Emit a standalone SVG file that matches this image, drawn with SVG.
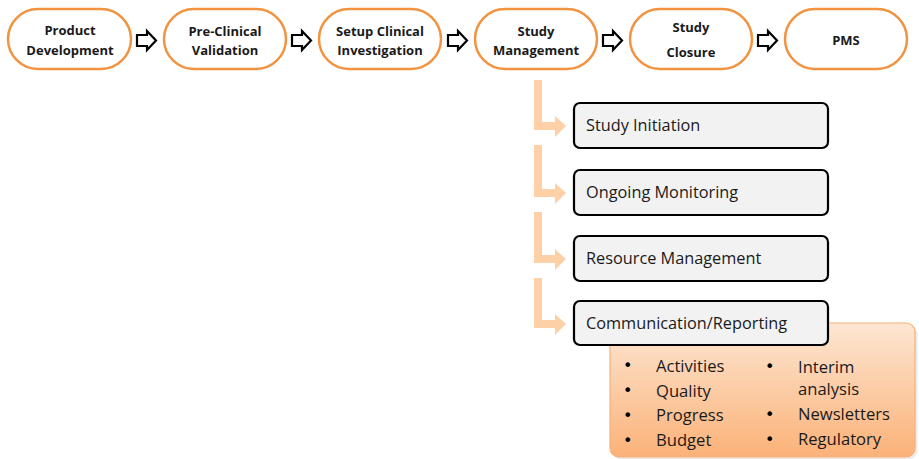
<svg xmlns="http://www.w3.org/2000/svg" width="919" height="459" viewBox="0 0 919 459">
<style>
.pill{fill:#fff;stroke:#f29340;stroke-width:2.5}
.pt{font-family:"Open Sans",sans-serif;font-weight:bold;font-size:13px;fill:#1a1a1a;text-anchor:middle}
.blk{fill:#fff;stroke:#000;stroke-width:2.2;stroke-linejoin:miter}
.sub{fill:#f2f2f2;stroke:#000;stroke-width:2.2}
.st{font-family:"Open Sans",sans-serif;font-size:16.3px;fill:#1a1a1a}
.elb{fill:none;stroke:#fdd0a8;stroke-width:8}
.ah{fill:#fdd0a8}
.bt{font-family:"Open Sans",sans-serif;font-size:16.6px;fill:#1a1a1a}
.bu{font-family:"DejaVu Sans",sans-serif;font-size:16px;fill:#000}
</style>
<defs>
<linearGradient id="og" x1="0" y1="0" x2="0" y2="1">
<stop offset="0" stop-color="#fde6d3"/>
<stop offset="1" stop-color="#fbb278"/>
</linearGradient>
<path id="bar" d="M0,4 H10 V0 L19,9.5 L10,19 V15 H0 Z"/>
</defs>

<g id="detail">
<rect x="611" y="323" width="305" height="135" rx="9" fill="#000" opacity="0.08" transform="translate(1.5,1.5)"/>
<rect x="610" y="323" width="305" height="134" rx="9" fill="url(#og)" stroke="#f5b07a" stroke-width="1.2"/>
<g class="bu">
<text x="623" y="371">•</text>
<text x="623" y="396">•</text>
<text x="623" y="421">•</text>
<text x="623" y="446">•</text>
<text x="765" y="372">•</text>
<text x="765" y="420">•</text>
<text x="765" y="445">•</text>
</g>
<g class="bt">
<text x="656" y="372">Activities</text>
<text x="656" y="397">Quality</text>
<text x="656" y="421">Progress</text>
<text x="656" y="446">Budget</text>
<text x="798" y="373">Interim</text>
<text x="798" y="395">analysis</text>
<text x="798" y="420">Newsletters</text>
<text x="798" y="445">Regulatory</text>
</g>
</g>

<g id="connectors">
<use href="#bar" class="blk" x="137" y="31"/>
<use href="#bar" class="blk" x="292" y="31"/>
<use href="#bar" class="blk" x="448" y="31"/>
<use href="#bar" class="blk" x="603" y="31"/>
<use href="#bar" class="blk" x="758" y="31"/>
<path class="elb" d="M538,80 V126 H557"/>
<path class="ah" d="M555,116 L566,126 L555,137 Z"/>
<path class="elb" d="M538,145 V193 H557"/>
<path class="ah" d="M555,183 L566,193 L555,204 Z"/>
<path class="elb" d="M538,212 V259 H557"/>
<path class="ah" d="M555,249 L566,259 L555,270 Z"/>
<path class="elb" d="M538,278 V324 H557"/>
<path class="ah" d="M555,314 L566,324 L555,335 Z"/>
</g>

<g id="n1"><rect class="pill" x="8" y="9" width="123" height="60" rx="30"/>
<text class="pt" x="70" y="35">Product</text><text class="pt" x="70" y="55">Development</text></g>
<g id="n2"><rect class="pill" x="164" y="9" width="122" height="60" rx="30"/>
<text class="pt" x="225" y="36">Pre-Clinical</text><text class="pt" x="225" y="55">Validation</text></g>
<g id="n3"><rect class="pill" x="319" y="9" width="122" height="60" rx="30"/>
<text class="pt" x="380" y="36">Setup Clinical</text><text class="pt" x="380" y="55">Investigation</text></g>
<g id="n4"><rect class="pill" x="475" y="9" width="122" height="60" rx="30"/>
<text class="pt" x="536" y="36">Study</text><text class="pt" x="536" y="55">Management</text></g>
<g id="n5"><rect class="pill" x="630" y="9" width="122" height="60" rx="30"/>
<text class="pt" x="691" y="32">Study</text><text class="pt" x="691" y="57">Closure</text></g>
<g id="n6"><rect class="pill" x="785" y="9" width="122" height="60" rx="30"/>
<text class="pt" x="846" y="45">PMS</text></g>

<g id="s1"><rect class="sub" x="574" y="103" width="254" height="45" rx="6"/><text class="st" x="586" y="131">Study Initiation</text></g>
<g id="s2"><rect class="sub" x="574" y="170" width="254" height="45" rx="6"/><text class="st" x="586" y="198">Ongoing Monitoring</text></g>
<g id="s3"><rect class="sub" x="574" y="236" width="254" height="45" rx="6"/><text class="st" x="586" y="264">Resource Management</text></g>
<g id="s4"><rect class="sub" x="574" y="301" width="254" height="44" rx="6"/><text class="st" x="586" y="329">Communication/Reporting</text></g>
</svg>
